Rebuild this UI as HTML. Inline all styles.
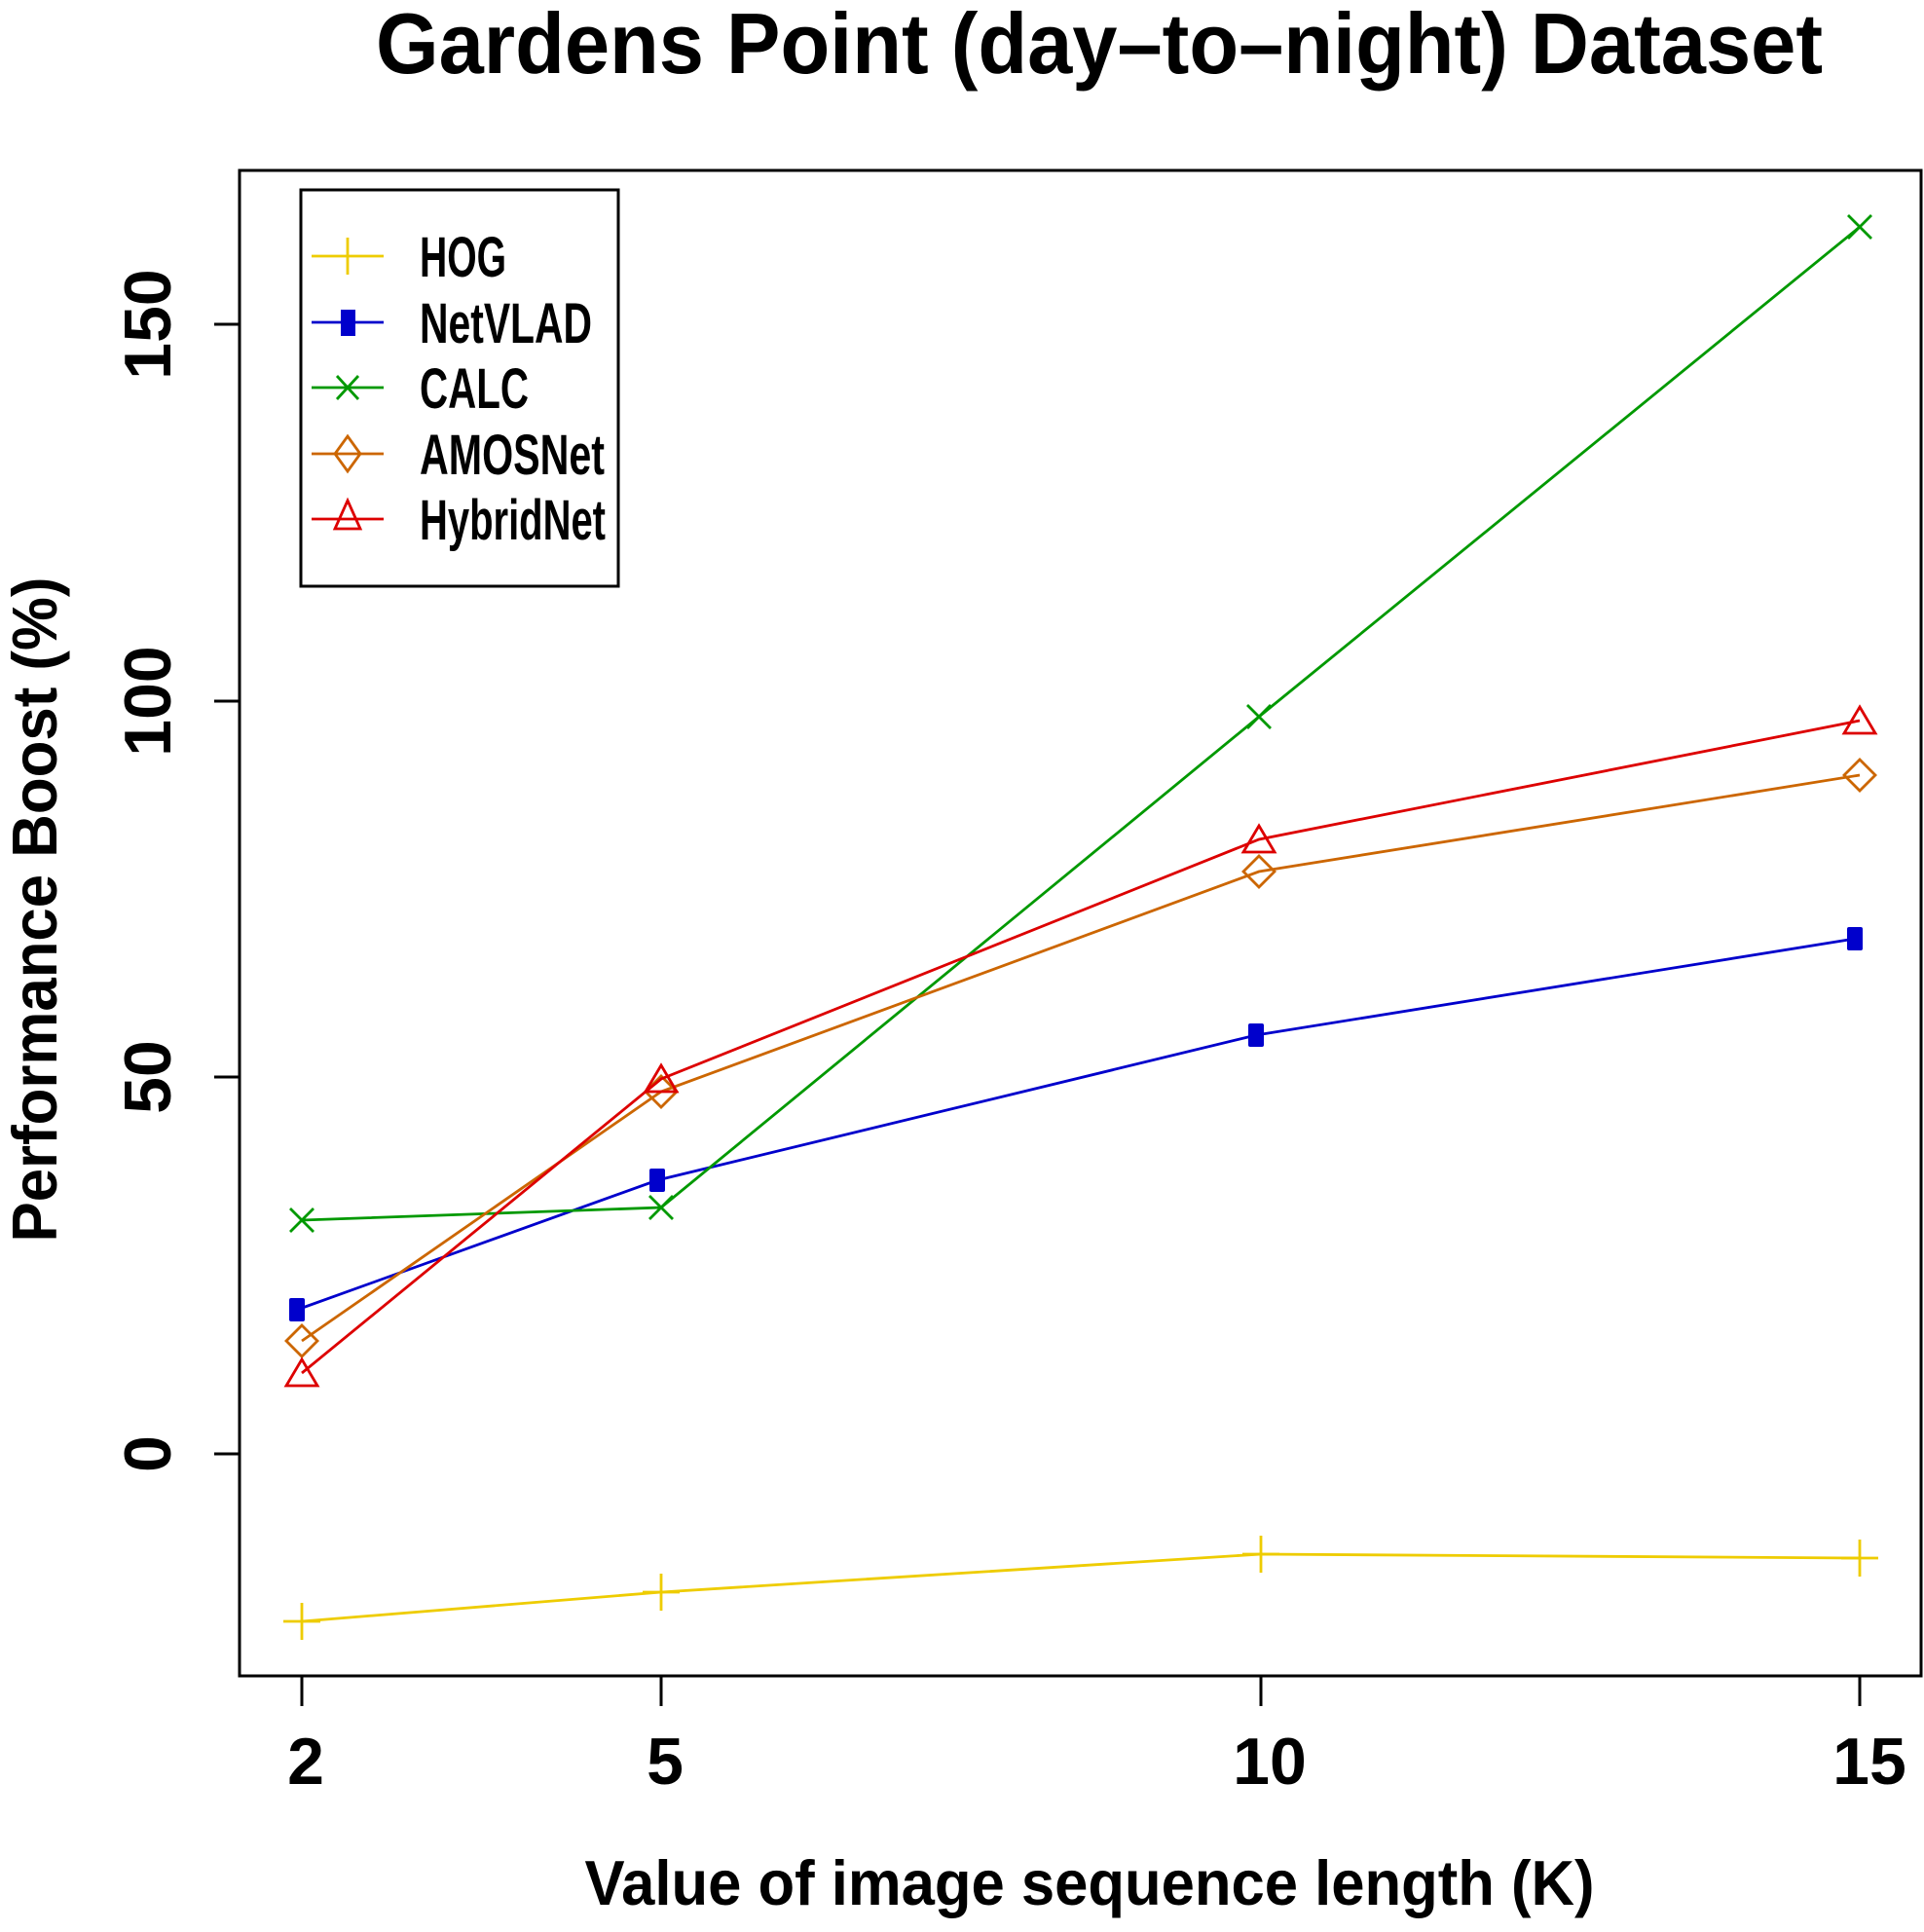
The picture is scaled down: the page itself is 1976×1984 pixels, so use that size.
<!DOCTYPE html>
<html><head><meta charset="utf-8"><style>html,body{margin:0;padding:0;background:#fff}svg{display:block}</style></head>
<body>
<svg width="1976" height="1984" viewBox="0 0 1976 1984" xmlns="http://www.w3.org/2000/svg" font-family="Liberation Sans, sans-serif" font-weight="bold">
<rect width="1976" height="1984" fill="#fff"/>
<text x="1129" y="75" font-size="88" text-anchor="middle" textLength="1486" lengthAdjust="spacingAndGlyphs">Gardens Point (day–to–night) Dataset</text>
<rect x="246" y="175" width="1727" height="1546" fill="none" stroke="#000" stroke-width="3"/>
<g stroke="#000" stroke-width="3">
<line x1="246" y1="333" x2="220" y2="333"/><line x1="246" y1="720" x2="220" y2="720"/>
<line x1="246" y1="1106" x2="220" y2="1106"/><line x1="246" y1="1493" x2="220" y2="1493"/>
<line x1="310" y1="1721" x2="310" y2="1752"/><line x1="679" y1="1721" x2="679" y2="1752"/>
<line x1="1295" y1="1721" x2="1295" y2="1752"/><line x1="1910" y1="1721" x2="1910" y2="1752"/>
</g>
<g font-size="68" text-anchor="middle">
<text transform="translate(175,333) rotate(-90)">150</text>
<text transform="translate(175,720) rotate(-90)">100</text>
<text transform="translate(175,1106) rotate(-90)">50</text>
<text transform="translate(175,1493) rotate(-90)">0</text>
<text x="314" y="1832">2</text><text x="683" y="1832">5</text>
<text x="1304" y="1832">10</text><text x="1920" y="1832">15</text>
</g>
<text x="1119" y="1956" font-size="65" text-anchor="middle" textLength="1037" lengthAdjust="spacingAndGlyphs">Value of image sequence length (K)</text>
<text transform="translate(58,934) rotate(-90)" font-size="65" text-anchor="middle" textLength="683" lengthAdjust="spacingAndGlyphs">Performance Boost (%)</text>

<g fill="none" stroke-width="2.8">
<polyline stroke="#EECC00" points="310,1665 679,1635 1295,1596 1910,1600"/>
<g stroke="#EECC00"><path d="M291,1665h38M310,1646v38M660,1635h38M679,1616v38M1276,1596h38M1295,1577v38M1891,1600h38M1910,1581v38"/></g>
<polyline stroke="#0000CC" points="305,1345 675,1212 1290,1063 1905,964"/>
<g fill="#0000CC" stroke="none">
<rect x="297" y="1333" width="16" height="24" rx="2"/><rect x="667" y="1200" width="16" height="24" rx="2"/>
<rect x="1282" y="1051" width="16" height="24" rx="2"/><rect x="1897" y="952" width="16" height="24" rx="2"/>
</g>
<polyline stroke="#009900" points="310,1253 679,1240 1293,736 1910,233"/>
<g stroke="#009900"><path d="M298,1241l24,24M322,1241l-24,24M667,1228l24,24M691,1228l-24,24M1281,724l24,24M1305,724l-24,24M1898,221l24,24M1922,221l-24,24"/></g>
<polyline stroke="#CC6600" points="310,1377 679,1121 1293,895 1910,796"/>
<g stroke="#CC6600"><path d="M310,1361l16,16l-16,16l-16,-16zM679,1105l16,16l-16,16l-16,-16zM1293,879l16,16l-16,16l-16,-16zM1910,780l16,16l-16,16l-16,-16z"/></g>
<polyline stroke="#DD0000" points="310,1410 679,1108 1293,862 1910,740"/>
<g stroke="#DD0000"><path d="M310,1396l16,27h-32zM679,1094l16,27h-32zM1293,848l16,27h-32zM1910,726l16,27h-32z"/></g>
</g>

<rect x="309" y="195" width="326" height="407" fill="#fff" stroke="#000" stroke-width="3"/>
<g fill="none" stroke-width="2.8">
<path stroke="#EECC00" d="M320,263h74M357,244v38"/>
<path stroke="#0000CC" d="M320,331h74"/><rect x="350" y="318" width="15" height="27" fill="#0000CC"/>
<path stroke="#009900" d="M320,398h74M346,386l22,24M368,386l-22,24"/>
<path stroke="#CC6600" d="M320,466h74M357,448l13,18l-13,18l-13,-18z"/>
<path stroke="#DD0000" d="M320,533h74M357,514l13,29h-26z"/>
</g>
<g font-size="58">
<text x="431" y="284" textLength="89" lengthAdjust="spacingAndGlyphs">HOG</text>
<text x="431" y="352" textLength="177" lengthAdjust="spacingAndGlyphs">NetVLAD</text>
<text x="431" y="419" textLength="112" lengthAdjust="spacingAndGlyphs">CALC</text>
<text x="431" y="487" textLength="190" lengthAdjust="spacingAndGlyphs">AMOSNet</text>
<text x="431" y="554" textLength="191" lengthAdjust="spacingAndGlyphs">HybridNet</text>
</g>
</svg>
</body></html>
